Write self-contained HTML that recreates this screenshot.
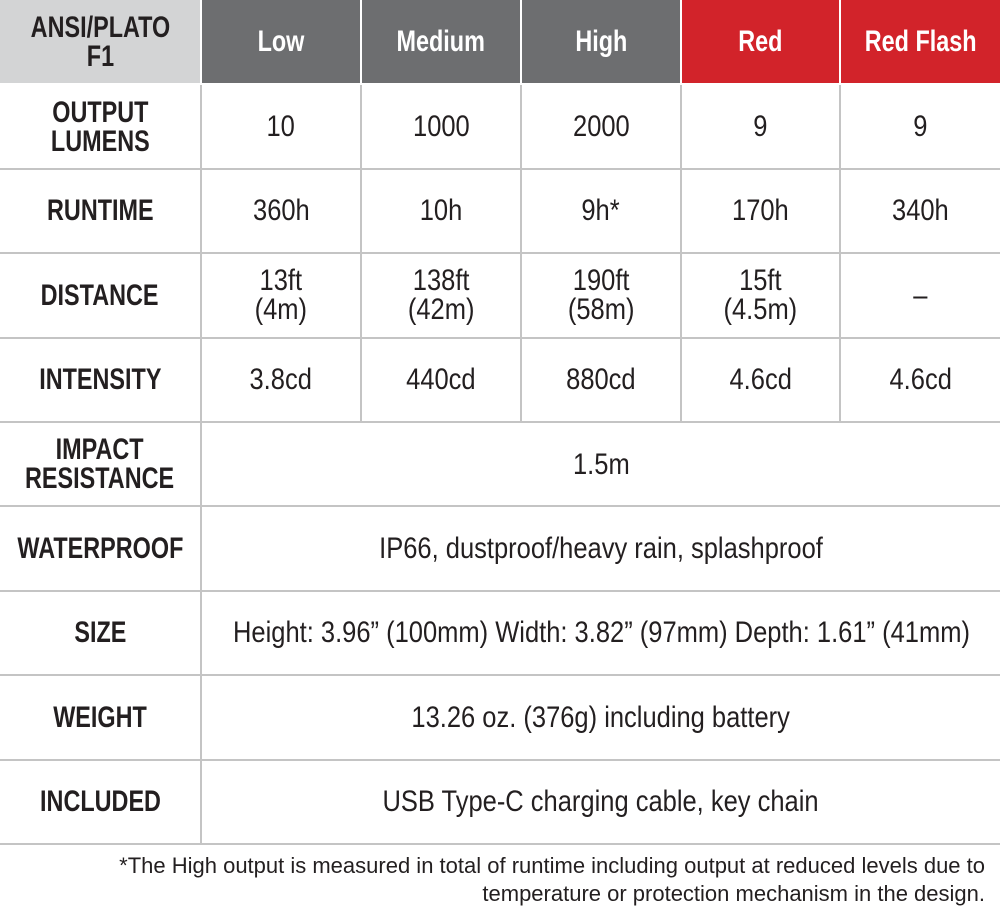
<!DOCTYPE html>
<html><head><style>
body{margin:0;width:1000px;height:918px;background:#fff;overflow:hidden;font-family:"Liberation Sans",sans-serif;color:#231f20}
table{border-collapse:collapse;table-layout:fixed;width:1000px;position:absolute;left:0;top:0}
td,th{border:2px solid #c4c4c4;text-align:center;vertical-align:middle;padding:0;font-size:30px;line-height:29px;white-space:nowrap}
tr{height:84.4px}
tr:first-child td,tr:first-child th{border-top:none}
td:first-child,th:first-child{border-left:none;font-weight:bold}
td:last-child,th:last-child{border-right:none}
tr:last-child td{border-bottom:2px solid #c4c4c4}
th{color:#fff;font-weight:bold;background:#6d6e70;border-color:#fff}
th.f{background:#d3d4d5;color:#231f20}
th.r{background:#d2232a}
span{display:inline-block;transform:scaleX(.85);margin:0 -100px}
td:first-child span,th span{transform:scaleX(.78)}
.note{position:absolute;right:15px;top:852px;text-align:right;font-size:22px;line-height:28px}
</style></head><body>
<table>
<colgroup><col style="width:201px"><col style="width:160px"><col style="width:160px"><col style="width:160px"><col style="width:159px"><col style="width:160px"></colgroup>
<tr><th class="f"><span>ANSI/PLATO<br>F1</span></th><th><span>Low</span></th><th><span>Medium</span></th><th><span>High</span></th><th class="r"><span>Red</span></th><th class="r"><span>Red Flash</span></th></tr>
<tr><td><span>OUTPUT<br>LUMENS</span></td><td><span>10</span></td><td><span>1000</span></td><td><span>2000</span></td><td><span>9</span></td><td><span>9</span></td></tr>
<tr><td><span>RUNTIME</span></td><td><span>360h</span></td><td><span>10h</span></td><td><span>9h*</span></td><td><span>170h</span></td><td><span>340h</span></td></tr>
<tr><td><span>DISTANCE</span></td><td><span>13ft<br>(4m)</span></td><td><span>138ft<br>(42m)</span></td><td><span>190ft<br>(58m)</span></td><td><span>15ft<br>(4.5m)</span></td><td><span>–</span></td></tr>
<tr><td><span>INTENSITY</span></td><td><span>3.8cd</span></td><td><span>440cd</span></td><td><span>880cd</span></td><td><span>4.6cd</span></td><td><span>4.6cd</span></td></tr>
<tr><td><span>IMPACT<br>RESISTANCE</span></td><td colspan="5"><span>1.5m</span></td></tr>
<tr><td><span>WATERPROOF</span></td><td colspan="5"><span>IP66, dustproof/heavy rain, splashproof</span></td></tr>
<tr><td><span>SIZE</span></td><td colspan="5"><span>Height: 3.96” (100mm) Width: 3.82” (97mm) Depth: 1.61” (41mm)</span></td></tr>
<tr><td><span>WEIGHT</span></td><td colspan="5"><span>13.26 oz. (376g) including battery</span></td></tr>
<tr><td><span>INCLUDED</span></td><td colspan="5"><span>USB Type-C charging cable, key chain</span></td></tr>
</table>
<div class="note">*The High output is measured in total of runtime including output at reduced levels due to<br>temperature or protection mechanism in the design.</div>
</body></html>
